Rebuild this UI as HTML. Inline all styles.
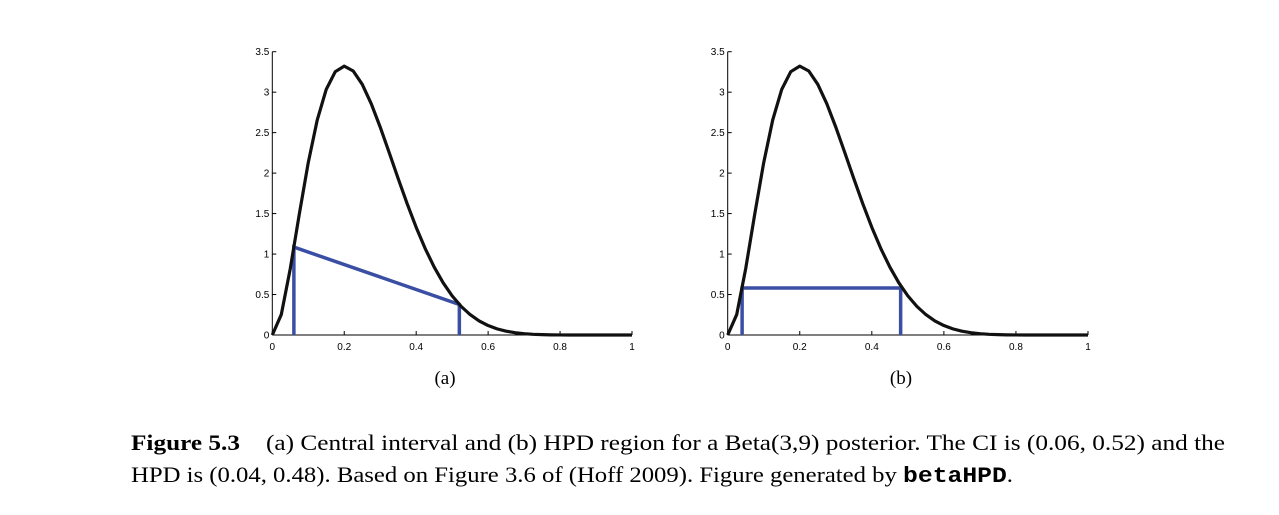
<!DOCTYPE html>
<html><head><meta charset="utf-8"><style>
html,body{margin:0;padding:0;background:#fff;}
svg{display:block;}
</style></head><body>
<svg id="s" width="1279" height="515" xmlns="http://www.w3.org/2000/svg" font-family="Liberation Sans, sans-serif">
<g id="g"></g>
<text x="445" y="384" font-family="Liberation Serif, serif" font-size="19" text-anchor="middle">(a)</text>
<text x="901" y="384" font-family="Liberation Serif, serif" font-size="19" text-anchor="middle">(b)</text>
<text x="131" y="450" font-family="Liberation Serif, serif" font-size="22" font-weight="bold" textLength="109" lengthAdjust="spacingAndGlyphs">Figure 5.3</text>
<text x="266" y="450" font-family="Liberation Serif, serif" font-size="22" textLength="959" lengthAdjust="spacingAndGlyphs">(a) Central interval and (b) HPD region for a Beta(3,9) posterior. The CI is (0.06, 0.52) and the</text>
<text x="131" y="482" font-family="Liberation Serif, serif" font-size="22" textLength="882" lengthAdjust="spacingAndGlyphs">HPD is (0.04, 0.48). Based on Figure 3.6 of (Hoff 2009). Figure generated by <tspan font-family="Liberation Mono, monospace" font-weight="bold">betaHPD</tspan>.</text>
</svg>
<script>
(function(){
var g=document.getElementById('g'),h='';
function pdf(x){return 495*x*x*Math.pow(1-x,8);}
var Y0=335,YS=(335-51.7)/3.5;
function plot(X0,X1,mode){
 var XS=X1-X0;
 function px(x){return X0+x*XS;} function py(y){return Y0-y*YS;}
 h+='<line x1="'+X0+'" y1="'+py(3.5)+'" x2="'+X0+'" y2="'+Y0+'" stroke="#000" stroke-width="1"/>';
 h+='<line x1="'+X0+'" y1="'+Y0+'" x2="'+X1+'" y2="'+Y0+'" stroke="#000" stroke-width="1"/>';
 for(var i=0;i<=7;i++){var v=i*0.5,y=py(v);
  h+='<line x1="'+X0+'" y1="'+y+'" x2="'+(X0+4)+'" y2="'+y+'" stroke="#000"/>';
  h+='<text x="'+(X0-3)+'" y="'+(y+3.5)+'" font-size="10" text-anchor="end">'+(i==0?'0':String(v))+'</text>';}
 for(var i=0;i<=5;i++){var v=i*0.2,x=px(v);
  h+='<line x1="'+x+'" y1="'+Y0+'" x2="'+x+'" y2="'+(Y0-4)+'" stroke="#000"/>';
  var lab=i==0?'0':(i==5?'1':v.toFixed(1));
  h+='<text x="'+x+'" y="'+(Y0+15)+'" font-size="10" text-anchor="middle">'+lab+'</text>';}
 var b='stroke="#3a4fa3" stroke-width="3.5" fill="none"';
 if(mode==0){
  h+='<polyline points="'+px(0.06)+','+Y0+' '+px(0.06)+','+py(1.086)+' '+px(0.52)+','+py(0.377)+' '+px(0.52)+','+Y0+'" '+b+'/>';
 } else {
  h+='<polyline points="'+px(0.04)+','+Y0+' '+px(0.04)+','+py(0.58)+' '+px(0.48)+','+py(0.58)+' '+px(0.48)+','+Y0+'" '+b+'/>';
 }
 var p=[];for(var i=0;i<=40;i++){var x=i/40;p.push(px(x).toFixed(2)+','+py(pdf(x)).toFixed(2));}
 h+='<polyline points="'+p.join(' ')+'" stroke="#111" stroke-width="3.2" fill="none" stroke-linejoin="round"/>';
}
plot(272.3,632,0);
plot(727.7,1088,1);
g.innerHTML=h;
})();
</script>
</body></html>
